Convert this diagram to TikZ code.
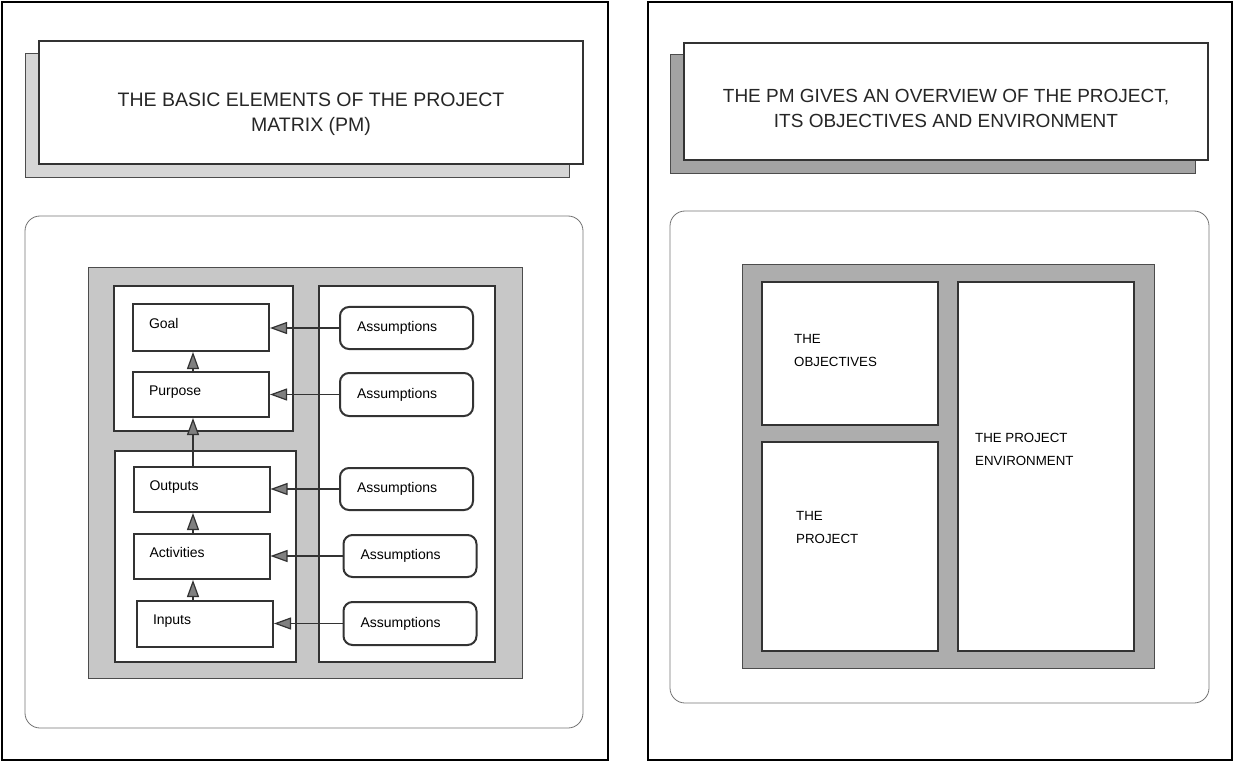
\documentclass[tikz,border=0pt]{standalone}
\usepackage{fontspec}
\setmainfont{Liberation Sans}
\usetikzlibrary{arrows.meta}

\definecolor{dotgray}{rgb}{0.78,0.78,0.78}
\definecolor{dotdark}{rgb}{0.68,0.68,0.68}
\definecolor{shadelight}{rgb}{0.84,0.84,0.84}
\definecolor{shadedark}{rgb}{0.64,0.64,0.64}

\begin{document}
\begin{tikzpicture}[x=1pt,y=1pt,yscale=-1,xscale=1,
  frame/.style={draw=black,line width=2pt},
  shade/.style={draw=black!70,line width=1pt},
  headbox/.style={draw=black!80,fill=white,line width=1.5pt,inner sep=0pt},
  headtxt/.style={inner sep=0pt,anchor=north,align=center,text=black!85},
  panel/.style={draw=black!55,line width=0.8pt,rounded corners=15pt},
  cell/.style={draw=black!80,fill=white,line width=2pt,inner sep=0pt},
  elem/.style={draw=black!80,fill=white,line width=2pt,inner xsep=16pt,text width=104pt,align=left,text depth=8pt,font=\fontsize{14}{16}\selectfont},
  assum/.style={draw=black!80,fill=white,line width=2pt,rounded corners=9pt,inner xsep=17pt,text width=99pt,align=left,font=\fontsize{14}{16}\selectfont},
  link/.style={draw=black!80,line width=1.2pt,-{Triangle[length=17pt,width=12pt,fill=black!50]}},
  lbl/.style={inner sep=0pt,anchor=north west,align=left,font=\fontsize{13.3}{23}\selectfont}
]
\useasboundingbox (0,0) rectangle (1235,762);

%Left sheet
\draw[frame] (2,2) rectangle (608,760);
%Shape: Rectangle (shadow)
\draw[shade,fill=shadelight] (25,54) rectangle (569,178);
\node[headbox,minimum width=544,minimum height=123] (head1) at (311,102.5) {};
\node[headtxt,font=\fontsize{19.5}{25}\selectfont] (head1txt) at (311,93) {THE BASIC ELEMENTS OF THE PROJECT\\MATRIX (PM)};
%Shape: Rounded Rect
\draw[panel] (25,216) rectangle (583,728);
%Shape: Rectangle
\draw[shade,fill=dotgray] (88,268) rectangle (522,678);
\draw[cell] (114,286) rectangle (293,431);
\draw[cell] (115,451) rectangle (296,662);
\draw[cell] (319,286) rectangle (495,662);

\node[elem,minimum height=47] (goal) at (201,327.5) {Goal};
\node[elem,minimum height=45] (purpose) at (201,394.5) {Purpose};
\node[elem,minimum height=45] (outputs) at (201.5,489.5) {Outputs};
\node[elem,minimum height=45] (activities) at (201.5,556.5) {Activities};
\node[elem,minimum height=46] (inputs) at (205,624) {Inputs};

\node[assum,minimum height=42] (asm1) at (406.5,328) {Assumptions};
\node[assum,minimum height=43] (asm2) at (406.5,394.5) {Assumptions};
\node[assum,minimum height=42] (asm3) at (406.5,489) {Assumptions};
\node[assum,minimum height=42] (asm4) at (410,556) {Assumptions};
\node[assum,minimum height=43] (asm5) at (410,623.5) {Assumptions};

\coordinate (spine) at (193,0);
\draw[link] (spine |- purpose.north) -- (spine |- goal.south);
\draw[link] (spine |- outputs.north) -- (spine |- purpose.south);
\draw[link] (spine |- activities.north) -- (spine |- outputs.south);
\draw[link] (spine |- inputs.north) -- (spine |- activities.south);

\draw[link] (asm1.west) -- (asm1.west -| goal.east);
\draw[link] (asm2.west) -- (asm2.west -| purpose.east);
\draw[link] (asm3.west) -- (asm3.west -| outputs.east);
\draw[link] (asm4.west) -- (asm4.west -| activities.east);
\draw[link] (asm5.west) -- (asm5.west -| inputs.east);

%Right sheet
\draw[frame] (648,2) rectangle (1232,760);
%Shape: Rectangle (shadow)
\draw[shade,fill=shadedark] (670,55) rectangle (1195,174);
\node[headbox,minimum width=524,minimum height=117] (head2) at (946,101.5) {};
\node[headtxt,font=\fontsize{19}{25}\selectfont] (head2txt) at (946,89) {THE PM GIVES AN OVERVIEW OF THE PROJECT,\\ITS OBJECTIVES AND ENVIRONMENT};
%Shape: Rounded Rect
\draw[panel] (670,211) rectangle (1209,703);
%Shape: Rectangle
\draw[shade,fill=dotdark] (742,265) rectangle (1154,668);
\node[cell,minimum width=176,minimum height=143] (objbox) at (850,353.5) {};
\node[cell,minimum width=176,minimum height=209] (projbox) at (850,546.5) {};
\node[cell,minimum width=176,minimum height=369] (envbox) at (1046,466.5) {};

\node[lbl] (objtxt) at (794,334.5) {THE\\OBJECTIVES};
\node[lbl] (projtxt) at (796,511.5) {THE\\PROJECT};
\node[lbl] (envtxt) at (975,433.5) {THE PROJECT\\ENVIRONMENT};
\end{tikzpicture}
\end{document}
